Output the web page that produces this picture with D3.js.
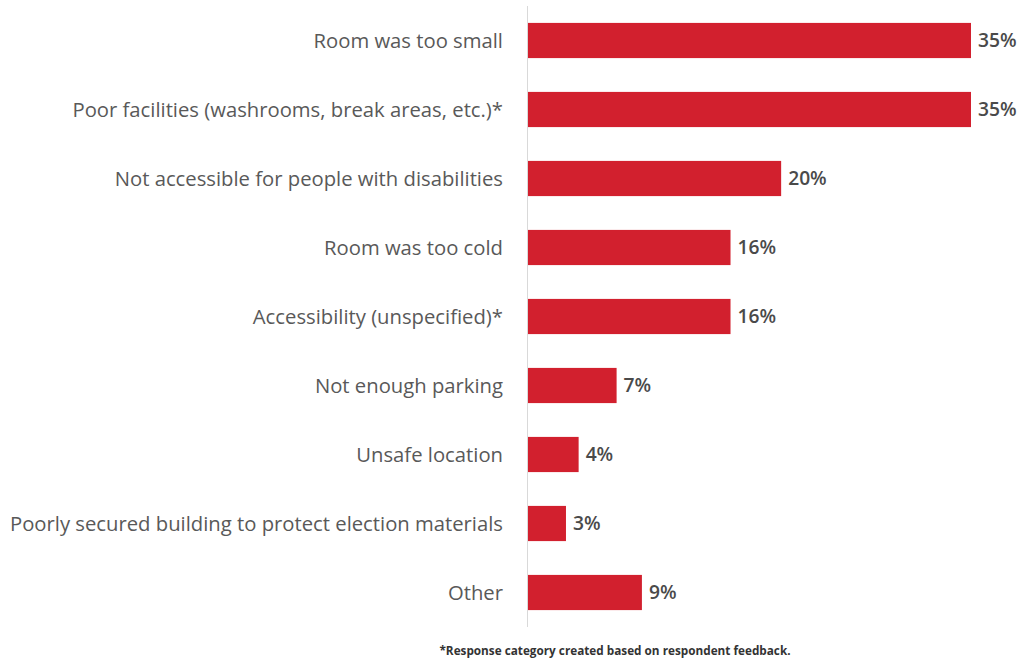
<!DOCTYPE html>
<html>
<head>
<meta charset="utf-8">
<script src="https://d3js.org/d3.v7.min.js"></script>
<style>
  html, body { margin: 0; padding: 0; background: #ffffff; }
  svg { display: block; }
</style>
</head>
<body>
<svg id="chart" width="1021" height="659"></svg>
<script>
// Reported problems with the polling location, share of respondents
const categories = [
  "Room was too small",
  "Poor facilities (washrooms, break areas, etc.)*",
  "Not accessible for people with disabilities",
  "Room was too cold",
  "Accessibility (unspecified)*",
  "Not enough parking",
  "Unsafe location",
  "Poorly secured building to protect election materials",
  "Other"
];
const values = [35, 35, 20, 16, 16, 7, 4, 3, 9];
const footnote = "*Response category created based on respondent feedback.";

const W = 1021, H = 659;
const svg = d3.select("#chart");
const font = "'Open Sans', 'DejaVu Sans', sans-serif";

const x0 = 528;
const x = d3.scaleLinear().domain([0, 35]).range([x0, 971]);
const y = d3.scaleBand().domain(categories).range([6, 627]).paddingInner(0.49).paddingOuter(0.245);

// Vertical baseline
svg.append("line")
  .attr("x1", x0 - 0.5).attr("x2", x0 - 0.5)
  .attr("y1", 6).attr("y2", 627)
  .attr("stroke", "#d9d9d9").attr("stroke-width", 1);

// Bars
svg.append("g").selectAll("rect")
  .data(categories)
  .join("rect")
  .attr("x", x0)
  .attr("y", d => y(d))
  .attr("width", (d, i) => x(values[i]) - x0)
  .attr("height", y.bandwidth())
  .attr("fill", "#d2202e");

// Category labels
const labels = svg.append("g").selectAll("text")
  .data(categories)
  .join("text")
  .attr("x", 503)
  .attr("y", d => y(d) + y.bandwidth() / 2)
  .attr("dy", "0.35em")
  .attr("text-anchor", "end")
  .attr("fill", "#595959")
  .attr("font-family", font)
  .attr("font-size", 18)
  .text(d => d);

// Fit the longest label into the space left of the axis
let maxW = 0;
labels.each(function() { maxW = Math.max(maxW, this.getComputedTextLength()); });
const fs = 18 * 493 / maxW;
labels.attr("font-size", fs);

// Value labels
svg.append("g").selectAll("text")
  .data(categories)
  .join("text")
  .attr("x", (d, i) => x(values[i]) + 7)
  .attr("y", d => y(d) + y.bandwidth() / 2)
  .attr("dy", "0.35em")
  .attr("fill", "#4a4a4a")
  .attr("font-family", font)
  .attr("font-size", fs * 0.95)
  .attr("font-weight", 600)
  .text((d, i) => values[i] + "%");

// Footnote
svg.append("text")
  .attr("x", 615)
  .attr("y", 651)
  .attr("dy", "0.35em")
  .attr("text-anchor", "middle")
  .attr("fill", "#333333")
  .attr("font-family", font)
  .attr("font-size", 11.75)
  .attr("font-weight", 700)
  .text(footnote);
</script>
</body>
</html>
